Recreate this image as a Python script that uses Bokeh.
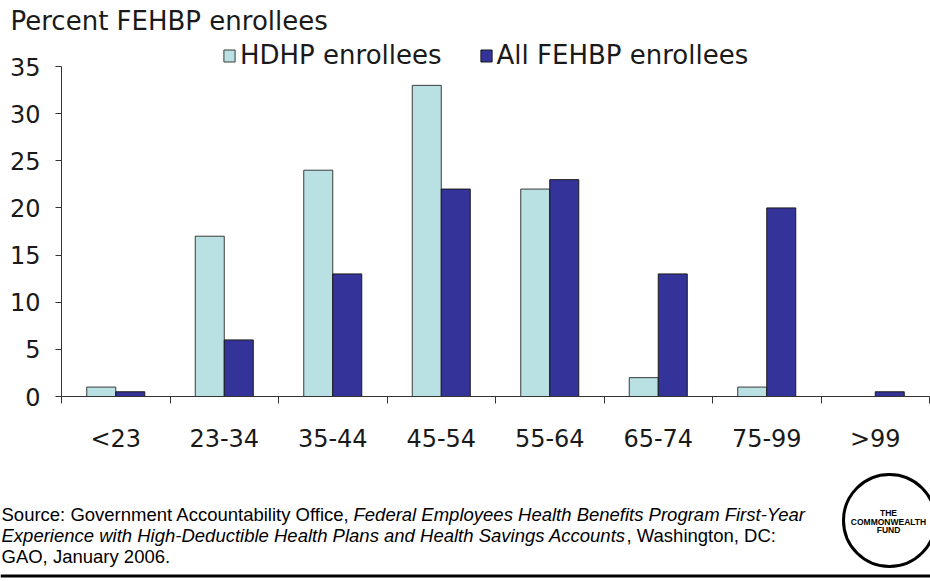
from bokeh.plotting import figure
from bokeh.models import Range1d, FixedTicker, Legend, LegendItem, Label
from bokeh.embed import file_html
from bokeh.resources import INLINE

# ---------------- data ----------------
categories = ["<23", "23-34", "35-44", "45-54", "55-64", "65-74", "75-99", ">99"]
hdhp = [1, 17, 24, 33, 22, 2, 1, 0]
all_fehbp = [0.5, 6, 13, 22, 23, 13, 20, 0.5]
y_ticks = [0, 5, 10, 15, 20, 25, 30, 35]
series_names = ["HDHP enrollees", "All FEHBP enrollees"]
title_text = "Percent FEHBP enrollees"
source_line1 = ["Source: Government Accountability Office, ",
                "Federal Employees Health Benefits Program First-Year"]
source_line2 = ["Experience with High-Deductible Health Plans and Health Savings Accounts",
                ", Washington, DC:"]
source_line3 = "GAO, January 2006."
logo_lines = ["THE", "COMMONWEALTH", "FUND"]

HDHP_COLOR = "#B9E0E2"
ALL_COLOR = "#333399"
TEXT_COLOR = "#1a1a1a"
AX_FONT = "DejaVu Sans"
SRC_FONT = "Liberation Sans"

# ---------------- layout (page pixels) ----------------
W, H = 930, 581
AXIS_L_PX, AXIS_R_PX = 61, 929       # page x of first / last category boundary
AXIS_TOP_PX, AXIS_BOT_PX = 66, 396   # page y of 35 and 0
n = len(categories)
px_per_cat = (AXIS_R_PX - AXIS_L_PX) / n
px_per_unit = (AXIS_BOT_PX - AXIS_TOP_PX) / 35.0
x_start = -0.5 - AXIS_L_PX / px_per_cat
x_end = x_start + W / px_per_cat
y_end = 35 + AXIS_TOP_PX / px_per_unit
y_start = y_end - H / px_per_unit


def dx(page_x):
    return x_start + page_x / px_per_cat


def dy(page_y):
    return y_end - page_y / px_per_unit


xs = list(range(n))

p = figure(width=W, height=H,
           x_range=Range1d(x_start, x_end), y_range=Range1d(y_start, y_end),
           output_backend="svg", toolbar_location=None, title=None,
           min_border=0, min_border_left=0, min_border_right=0,
           min_border_top=0, min_border_bottom=0)
p.outline_line_color = None
p.grid.visible = False
p.background_fill_color = "white"
p.border_fill_color = "white"

offset = 14.5 / px_per_cat
bw = 29 / px_per_cat
r1 = p.vbar(x=[x - offset for x in xs], top=hdhp, width=bw,
            fill_color=HDHP_COLOR, line_color="#3a3a3a", line_width=1)
r2 = p.vbar(x=[x + offset for x in xs], top=all_fehbp, width=bw,
            fill_color=ALL_COLOR, line_color="#1a1a1a", line_width=1)

# y axis (drawn at the left category boundary)
yax = p.yaxis[0]
yax.fixed_location = -0.5
yax.ticker = FixedTicker(ticks=y_ticks)
yax.bounds = (0, 35)
yax.major_tick_out = 6
yax.major_tick_in = 0
yax.minor_tick_out = 0
yax.minor_tick_in = 0
yax.major_label_standoff = 15
yax.major_label_text_font = AX_FONT
yax.major_label_text_font_size = "24px"
yax.major_label_text_color = TEXT_COLOR
yax.axis_line_color = "#333333"
yax.major_tick_line_color = "#333333"

# x axis: labels at category centres, tick marks at category boundaries
xax = p.xaxis[0]
xax.fixed_location = 0
xax.bounds = (-0.5, n - 0.5)
xax.ticker = FixedTicker(ticks=xs, minor_ticks=[x - 0.5 for x in xs] + [n - 0.5])
xax.major_label_overrides = {x: c for x, c in zip(xs, categories)}
xax.major_tick_out = 0
xax.major_tick_in = 0
xax.minor_tick_out = 7
xax.minor_tick_in = 0
xax.minor_tick_line_color = "#333333"
xax.axis_line_color = "#333333"
xax.major_label_standoff = 21
xax.major_label_text_font = AX_FONT
xax.major_label_text_font_size = "24px"
xax.major_label_text_color = TEXT_COLOR

legend = Legend(items=[LegendItem(label=series_names[0], renderers=[r1]),
                       LegendItem(label=series_names[1], renderers=[r2])],
                location=(222, H - 70), orientation="horizontal",
                glyph_width=14, glyph_height=15, label_standoff=4, spacing=37,
                padding=0, margin=0, border_line_color=None, background_fill_alpha=0,
                label_text_font=AX_FONT, label_text_font_size="26px",
                label_text_color=TEXT_COLOR)
p.add_layout(legend, "center")

# title
p.add_layout(Label(x=dx(10), y=dy(20), text=title_text, text_font=AX_FONT,
                   text_font_size="26px", text_color=TEXT_COLOR,
                   text_baseline="alphabetic"))

# source note
fs = "18.5px"


def note(px, py, text, italic=False):
    p.add_layout(Label(x=dx(px), y=dy(py), text=text, text_font=SRC_FONT,
                       text_font_size=fs,
                       text_font_style="italic" if italic else "normal",
                       text_color="black", text_baseline="alphabetic"))


note(1, 514, source_line1[0])
note(353, 514, source_line1[1], italic=True)
note(1, 535, source_line2[0], italic=True)
note(626, 535, source_line2[1])
note(1, 556, source_line3)

# logo
p.ellipse(x=[dx(889)], y=[dy(520)], width=92, height=92,
          width_units="screen", height_units="screen",
          fill_color=None, line_color="black", line_width=3)
for txt, py in zip(logo_lines, [512.5, 521, 529.5]):
    p.add_layout(Label(x=dx(888), y=dy(py), text=txt, text_font=SRC_FONT,
                       text_font_size="8.5px", text_font_style="bold",
                       text_color="black", text_align="center",
                       text_baseline="middle"))

# bottom rule
p.quad(left=[dx(0)], right=[dx(W)], top=[dy(574)], bottom=[dy(577)],
       fill_color="black", line_color=None)

open("out.html", "w").write(file_html(p, INLINE))
